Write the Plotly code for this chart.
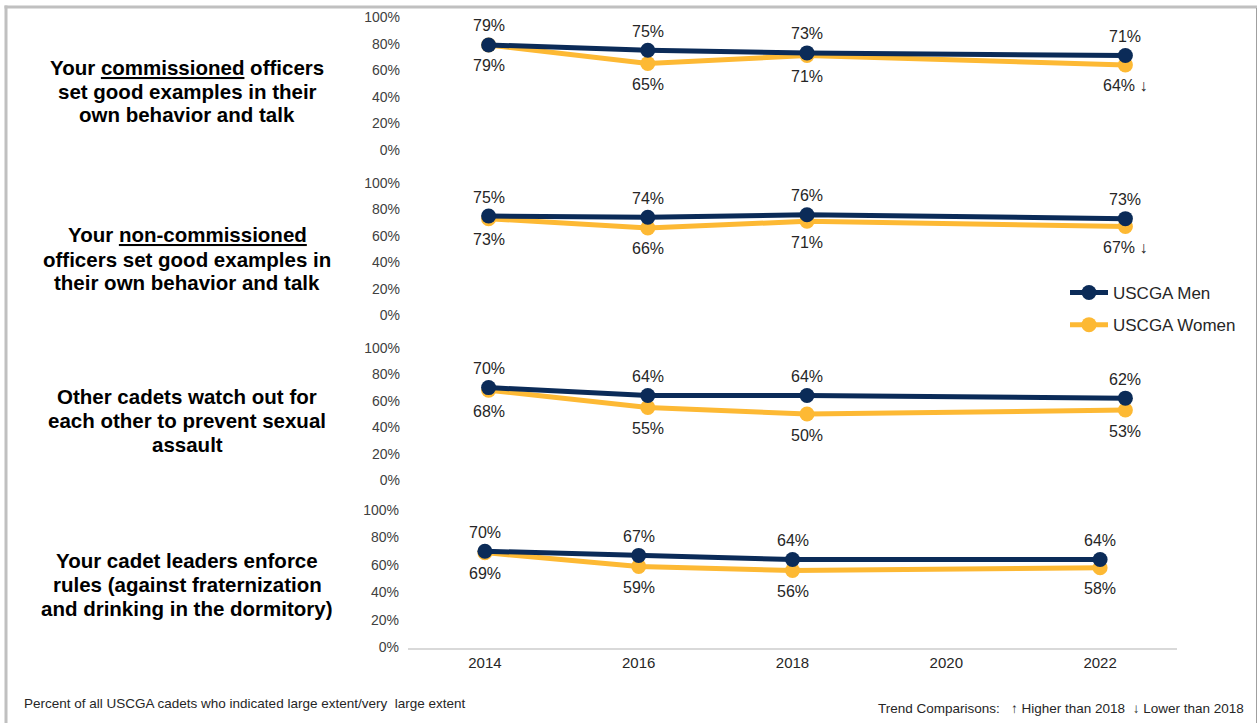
import plotly.graph_objects as go

# ---------------- data ----------------
years = [2014, 2016, 2018, 2022]
questions = [
    ["Your <u>commissioned</u> officers", "set good examples in their", "own behavior and talk"],
    ["Your <u>non-commissioned</u>", "officers set good examples in", "their own behavior and talk"],
    ["Other cadets watch out for", "each other to prevent sexual", "assault"],
    ["Your cadet leaders enforce", "rules (against fraternization", "and drinking in the dormitory)"],
]
men = [
    [79, 75, 73, 71],
    [75, 74, 76, 73],
    [70, 64, 64, 62],
    [70, 67, 64, 64],
]
women = [
    [79, 65, 71, 64],
    [73, 66, 71, 67],
    [68, 55, 50, 53],
    [69, 59, 56, 58],
]
# trend vs 2018 for women in 2022 ("" none, "↓" lower, "↑" higher)
women_trend = [
    ["", "", "", "↓"],
    ["", "", "", "↓"],
    ["", "", "", ""],
    ["", "", "", ""],
]
x_ticks = [2014, 2016, 2018, 2020, 2022]
y_ticks = [0, 20, 40, 60, 80, 100]
series_names = ["USCGA Men", "USCGA Women"]
footnote = "Percent of all USCGA cadets who indicated large extent/very  large extent"
trend_note = "Trend Comparisons:   \u2191 Higher than 2018  \u2193 Lower than 2018"

# ---------------- style ----------------
W, H = 1259, 723
NAVY = "#0B2B58"
GOLD = "#FDB934"
FONT = "Arial, Liberation Sans, sans-serif"
TXT = "#262626"

def px_x(p):
    return p / W

def px_y(p):
    return 1 - p / H

panel_px = [(17, 150), (183, 315), (348, 480), (510, 647.5)]
panel_x_px = [(409, 1205), (409, 1205), (409, 1205), (408, 1177)]
question_center = [91, 259, 420, 584]

fig = go.Figure()
layout = dict(
    template="none",
    width=W, height=H, autosize=False,
    margin=dict(l=0, r=0, t=0, b=0, pad=0),
    paper_bgcolor="white", plot_bgcolor="white",
    font=dict(family=FONT, color=TXT),
    showlegend=True,
    legend=dict(x=px_x(1065), y=px_y(275), xanchor="left", yanchor="top",
                font=dict(size=17, color=TXT, family=FONT),
                bgcolor="rgba(0,0,0,0)", tracegroupgap=7,
                traceorder="grouped", itemwidth=38),
)
annotations = []
shapes = []

for i in range(4):
    n = "" if i == 0 else str(i + 1)
    xa, ya = "x" + n, "y" + n
    top, bot = panel_px[i]
    xl, xr = panel_x_px[i]
    last = i == 3
    layout["xaxis" + n] = dict(
        domain=[px_x(xl), px_x(xr)], range=[2013, 2023], anchor=ya,
        tickvals=x_ticks, ticktext=[str(v) for v in x_ticks],
        showticklabels=last, showline=last, linecolor="#D9D9D9", linewidth=2,
        showgrid=False, zeroline=False, ticks="", automargin=False,
        tickfont=dict(size=15, color=TXT, family=FONT),
    )
    layout["yaxis" + n] = dict(
        domain=[px_y(bot), px_y(top)], range=[0, 100], anchor=xa,
        tickvals=y_ticks, ticktext=[f"{v}%" for v in y_ticks],
        showgrid=False, zeroline=False, showline=False, ticks="",
        automargin=False, ticklabelstandoff=8,
        tickfont=dict(size=14, color="#404040", family=FONT),
    )
    # women first (underneath)
    fig.add_trace(go.Scatter(
        x=years, y=women[i], mode="lines+markers", name=series_names[1],
        line=dict(color=GOLD, width=5), marker=dict(color=GOLD, size=15),
        xaxis=xa, yaxis=ya, showlegend=(i == 0), legendgroup="w",
        legendrank=2, hoverinfo="skip",
    ))
    fig.add_trace(go.Scatter(
        x=years, y=men[i], mode="lines+markers", name=series_names[0],
        line=dict(color=NAVY, width=5), marker=dict(color=NAVY, size=15),
        xaxis=xa, yaxis=ya, showlegend=(i == 0), legendgroup="m",
        legendrank=1, hoverinfo="skip",
    ))
    for j, yr in enumerate(years):
        annotations.append(dict(
            x=yr, y=men[i][j], xref=xa, yref=ya, text=f"{men[i][j]}%",
            showarrow=False, yshift=19, font=dict(size=16, color=TXT, family=FONT),
        ))
        wtxt = f"{women[i][j]}%" + (" " + women_trend[i][j] if women_trend[i][j] else "")
        annotations.append(dict(
            x=yr, y=women[i][j], xref=xa, yref=ya, text=wtxt,
            showarrow=False, yshift=-21, font=dict(size=16, color=TXT, family=FONT),
        ))
    # question text, one line per annotation
    nl = len(questions[i])
    for k, line in enumerate(questions[i]):
        yc = question_center[i] + (k - (nl - 1) / 2) * 24
        annotations.append(dict(
            x=px_x(187), y=px_y(yc), xref="paper", yref="paper",
            text="<b>" + line + "</b>", showarrow=False, align="center",
            xanchor="center", yanchor="middle",
            font=dict(size=20.5, color="#000000", family=FONT),
        ))

annotations.append(dict(
    x=px_x(22), y=px_y(703), xref="paper", yref="paper", text=footnote,
    showarrow=False, xanchor="left", yanchor="middle",
    font=dict(size=13.5, color=TXT, family=FONT),
))
annotations.append(dict(
    x=px_x(1246), y=px_y(708), xref="paper", yref="paper", text=trend_note,
    showarrow=False, xanchor="right", yanchor="middle",
    font=dict(size=13.5, color=TXT, family=FONT),
))

# frame
shapes.append(dict(type="rect", xref="paper", yref="paper",
                   x0=px_x(4.5), x1=px_x(7.5), y0=px_y(730), y1=px_y(5.5),
                   fillcolor="#C0C0C0", line=dict(width=0), layer="above"))
shapes.append(dict(type="rect", xref="paper", yref="paper",
                   x0=px_x(4.5), x1=px_x(1257), y0=px_y(8.5), y1=px_y(5.5),
                   fillcolor="#C0C0C0", line=dict(width=0), layer="above"))
shapes.append(dict(type="rect", xref="paper", yref="paper",
                   x0=px_x(1256), x1=px_x(1257), y0=px_y(730), y1=px_y(8),
                   fillcolor="#A0A0A0", line=dict(width=0), layer="above"))

layout["annotations"] = annotations
layout["shapes"] = shapes
fig.update_layout(**layout)
fig.write_html(
    "out.html",
    config={"staticPlot": True, "displayModeBar": False},
    post_script="document.body.style.margin='0';document.body.style.overflow='hidden';",
)
